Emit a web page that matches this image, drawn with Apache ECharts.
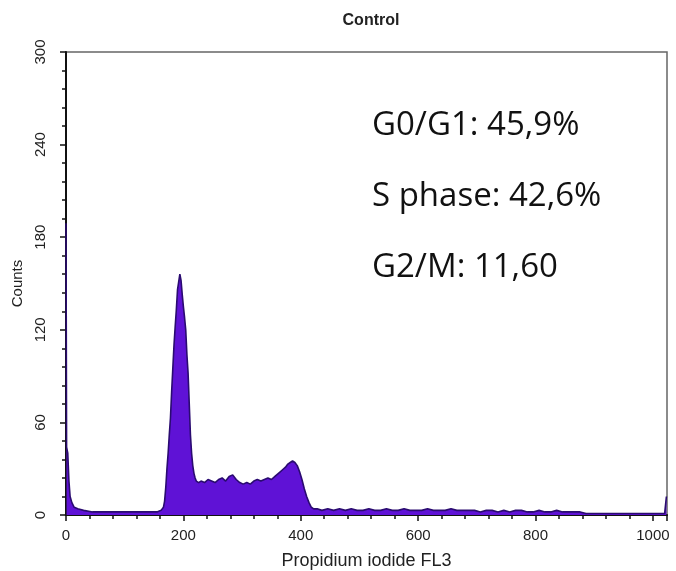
<!DOCTYPE html>
<html>
<head>
<meta charset="utf-8">
<script src="https://cdn.jsdelivr.net/npm/echarts@6/dist/echarts.min.js"></script>
<style>
  html, body { margin: 0; padding: 0; background: #fff; }
  #chart { width: 676px; height: 571px; }
</style>
</head>
<body>
<div id="chart"></div>
<script>
// FL3 channel positions and counts
var fl3Channel = [0, 1, 3, 5, 7, 10, 14, 20, 30, 45, 60, 80, 100, 120, 140, 155, 162, 166, 168, 170,
    172, 174, 176, 178, 180, 182, 184, 186, 188, 190, 192, 194, 195, 196, 198, 200, 202, 204, 206, 208,
    210, 212, 214, 216, 218, 220, 222, 226, 230, 236, 242, 248, 254, 260, 266, 272, 278, 284, 290, 296,
    302, 308, 314, 320, 326, 332, 338, 344, 350, 356, 362, 368, 374, 378, 382, 386, 390, 394, 398, 402,
    406, 410, 414, 418, 422, 428, 436, 446, 456, 466, 476, 486, 496, 506, 516, 526, 536, 546, 556, 566,
    576, 586, 596, 606, 616, 626, 636, 646, 656, 666, 676, 686, 696, 706, 716, 726, 736, 746, 756, 766,
    776, 786, 796, 806, 816, 826, 836, 846, 856, 866, 876, 886, 896, 910, 930, 950, 970, 990, 1010, 1020,
    1022, 1023]
var counts = [189, 44, 40, 22, 12, 8, 5, 4, 3, 2, 2, 2, 2, 2, 2, 2, 3, 5, 9, 18,
    30, 40, 52, 63, 80, 95, 110, 122, 133, 146, 151, 156, 157, 152, 143, 135, 128, 120, 104, 92,
    72, 52, 40, 32, 27, 24, 22, 21, 22, 21, 23, 22, 21, 23, 24, 22, 25, 26, 23, 21,
    20, 21, 20, 22, 23, 22, 23, 24, 23, 25, 27, 29, 31, 33, 34, 35, 34, 32, 28, 23,
    17, 12, 8, 5, 4, 4, 3, 4, 3, 4, 3, 4, 3, 3, 4, 3, 3, 4, 3, 3,
    4, 3, 3, 3, 4, 3, 3, 3, 4, 3, 3, 3, 3, 2, 3, 3, 2, 3, 2, 3,
    3, 2, 2, 3, 2, 2, 3, 2, 2, 2, 2, 1, 1, 1, 1, 1, 1, 1, 1, 1,
    1, 12]
var yTicks = [0, 60, 120, 180, 240, 300]
var xTicks = [0, 200, 400, 600, 800, 1000]
var phaseText = ['G0/G1: 45,9%', 'S phase: 42,6%', 'G2/M: 11,60']

var histData = []
for (var i = 0; i < fl3Channel.length; i++) {
    histData.push([fl3Channel[i], counts[i]])
}

var myChart = echarts.init(document.getElementById('chart'))

var option = {
    animation: false,
    backgroundColor: '#fff',
    title: {
        text: 'Control',
        left: 366,
        top: 8,
        textAlign: 'center',
        textStyle: { fontFamily: 'Liberation Sans', fontSize: 16, fontWeight: 'bold', color: '#222' }
    },
    grid: {
        left: 66, right: 9, top: 52, bottom: 56,
        outerBoundsMode: 'none',
        containLabel: false,
        show: true, borderColor: '#666', borderWidth: 1.5
    },
    xAxis: {
        type: 'value',
        min: 0,
        max: 1024,
        interval: 200,
        name: 'Propidium iodide FL3',
        nameLocation: 'middle',
        nameGap: 37,
        nameTextStyle: { fontFamily: 'Liberation Sans', fontSize: 18, color: '#222' },
        axisLine: { lineStyle: { color: '#111', width: 2 } },
        axisTick: { length: 6, lineStyle: { color: '#111', width: 1.5 } },
        minorTick: { show: true, splitNumber: 5, length: 4, lineStyle: { color: '#111', width: 1.5 } },
        axisLabel: {
            margin: 13, fontSize: 15, fontFamily: 'Liberation Sans', color: '#222', showMaxLabel: false,
            formatter: function (v) { return xTicks.indexOf(v) >= 0 ? v : '' }
        },
        splitLine: { show: false }
    },
    yAxis: {
        type: 'value',
        min: 0,
        max: 300,
        interval: 60,
        name: 'Counts',
        nameLocation: 'middle',
        nameGap: 40,
        nameRotate: 90,
        nameTextStyle: { fontFamily: 'Liberation Sans', fontSize: 15, color: '#222' },
        axisLine: { show: true, lineStyle: { color: '#111', width: 2 } },
        axisTick: { show: true, length: 6, lineStyle: { color: '#111', width: 1.5 } },
        minorTick: { show: true, splitNumber: 5, length: 4, lineStyle: { color: '#111', width: 1.5 } },
        axisLabel: {
            margin: 18, rotate: 90, fontSize: 15, fontFamily: 'Liberation Sans', color: '#222',
            formatter: function (v) { return yTicks.indexOf(v) >= 0 ? v : '' }
        },
        splitLine: { show: false }
    },
    series: [
        {
            type: 'line',
            data: histData,
            showSymbol: false,
            symbol: 'none',
            lineStyle: { color: '#2a0b70', width: 1.6 },
            areaStyle: { color: '#5f12d6', opacity: 1 },
            z: 3
        }
    ],
    graphic: [
        { type: 'text', left: 372, top: 109, style: { text: phaseText[0], font: '33px "Open Sans"', fill: '#111' } },
        { type: 'text', left: 372, top: 180, style: { text: phaseText[1], font: '33px "Open Sans"', fill: '#111' } },
        { type: 'text', left: 372, top: 251, style: { text: phaseText[2], font: '33px "Open Sans"', fill: '#111' } }
    ]
}
myChart.setOption(option)
</script>
</body>
</html>
